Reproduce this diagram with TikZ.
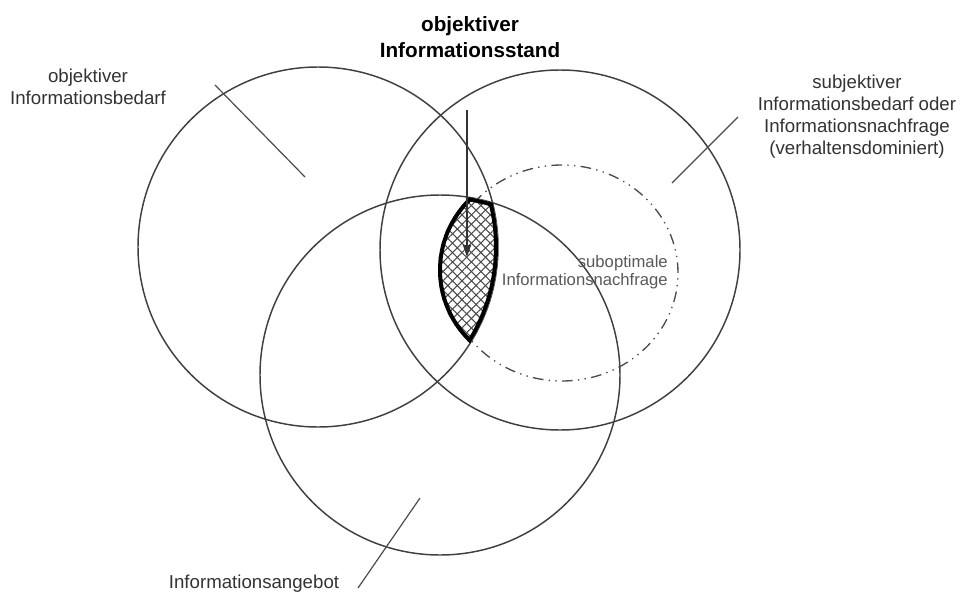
\documentclass[tikz,border=0pt]{standalone}
\usepackage{fontspec}
\setmainfont{Liberation Sans}
\usetikzlibrary{patterns.meta,arrows.meta}
\begin{document}
\begin{tikzpicture}[x=0.75pt,y=-0.75pt,
  circ/.style={draw=black!75,line width=1.1pt},
  leader/.style={draw=black!70,line width=0.9pt},
  lbl/.style={text=black!80,font=\fontsize{14}{16.5}\selectfont,align=center,inner sep=0pt},
  hatch/.style={pattern={Lines[angle=#1,distance=5pt,line width=0.8pt]},pattern color=black!70},
  thickrim/.style={draw=black,line width=6pt}
]
\useasboundingbox[fill=white] (0,0) rectangle (960,592);

% main circles
\draw[circ] (318,247) circle[radius=135pt];
\draw[circ] (560,250) circle[radius=135pt];
\draw[circ] (440,375) circle[radius=135pt];
\coordinate (cA) at (318,247);
\coordinate (cB) at (560,250);
\coordinate (cC) at (440,375);

% dash-dot-dot ellipse (suboptimale Informationsnachfrage)
\draw[draw=black!70,line width=1pt,dash pattern=on 8pt off 4pt on 1pt off 4pt on 1pt off 4pt]
  (562,273) ellipse[x radius=87pt,y radius=81pt];

% lens: intersection of A, C and E
\begin{scope}
  \clip (318,247) circle[radius=135pt];
  \clip (440,375) circle[radius=135pt];
  \clip (538,270) circle[radius=75pt];
  \fill[white] (400,150) rectangle (560,400);
  \fill[hatch=45] (400,150) rectangle (560,400);
  \fill[hatch=-45] (400,150) rectangle (560,400);
  \draw[thickrim] (538,270) circle[radius=75pt];
  \draw[thickrim] (318,247) circle[radius=135pt];
  \draw[thickrim] (440,375) circle[radius=135pt];
\end{scope}

% labels
\node[font=\bfseries\fontsize{15.5}{20}\selectfont,align=center,inner sep=0pt] (title) at (470,37)
  {objektiver\\Informationsstand};
\node[lbl] (lobj) at (88,87) {objektiver\\Informationsbedarf};
\node[lbl] (lsub) at (857,117) {subjektiver\\Informationsbedarf oder\\Informationsnachfrage\\(verhaltensdominiert)};
\node[lbl,text=black!65,font=\fontsize{12.5}{13.5}\selectfont,align=right,anchor=east] (lsubopt) at (668,272)
  {suboptimale\\Informationsnachfrage};
\node[lbl] (lang) at (254,584) {Informationsangebot};

% leader lines
\coordinate (l1a) at (215,85);  \coordinate (l1b) at (305,177);
\coordinate (l2a) at (738,117); \coordinate (l2b) at (672,183);
\coordinate (l3a) at (358,588); \coordinate (l3b) at (420,498);
\draw[leader] (l1a) -- (l1b);
\draw[leader] (l2a) -- (l2b);
\draw[leader] (l3a) -- (l3b);

% arrow
\coordinate (arrS) at (467,110);
\coordinate (arrE) at (467,257);
\draw[draw=black!80,line width=1pt,-{Triangle[length=9pt,width=6pt]}] (arrS) -- (arrE);
\end{tikzpicture}
\end{document}
